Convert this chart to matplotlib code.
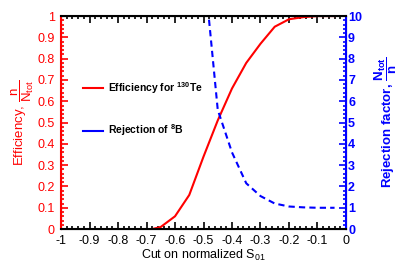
import matplotlib
matplotlib.use("Agg")
import matplotlib.pyplot as plt
from matplotlib.lines import Line2D
from matplotlib.ticker import MultipleLocator

plt.rcParams["font.family"] = ["Liberation Sans", "DejaVu Sans"]
plt.rcParams["mathtext.fontset"] = "custom"
plt.rcParams["mathtext.rm"] = "Liberation Sans"
plt.rcParams["mathtext.it"] = "Liberation Sans"
plt.rcParams["mathtext.bf"] = "Liberation Sans:bold"

# efficiency for 130Te (left axis)
eff_x = [-0.68, -0.65, -0.6, -0.55, -0.5, -0.45, -0.4, -0.35, -0.3, -0.25, -0.2, -0.15, -0.1, -0.04]
eff_y = [0.0, 0.01, 0.06, 0.16, 0.34, 0.51, 0.66, 0.78, 0.87, 0.95, 0.985, 0.995, 1.0, 1.0]

# rejection factor of 8B (right axis)
rej_x = [-0.5, -0.45, -0.4, -0.35, -0.3, -0.25, -0.2, -0.15, -0.1, -0.04]
rej_y = [12.5, 5.6, 3.6, 2.15, 1.55, 1.2, 1.06, 1.02, 1.0, 1.0]

xticks = [-1, -0.9, -0.8, -0.7, -0.6, -0.5, -0.4, -0.3, -0.2, -0.1, 0]
xlabels = ["-1", "-0.9", "-0.8", "-0.7", "-0.6", "-0.5", "-0.4", "-0.3", "-0.2", "-0.1", "0"]
yticks_l = [0, 0.1, 0.2, 0.3, 0.4, 0.5, 0.6, 0.7, 0.8, 0.9, 1]
ylabels_l = ["0", "0.1", "0.2", "0.3", "0.4", "0.5", "0.6", "0.7", "0.8", "0.9", "1"]
yticks_r = list(range(0, 11))

fig = plt.figure(figsize=(4.07, 2.77), dpi=100)
ax = fig.add_axes([0.150, 0.173, 0.700, 0.769])
ax2 = ax.twinx()

ax.plot(eff_x, eff_y, color="red", lw=1.5)
ax2.plot(rej_x, rej_y, color="blue", lw=1.5, ls=(0, (3, 2)))

ax.set_xlim(-1, 0)
ax.set_ylim(0, 1)
ax2.set_ylim(0, 10)

ax.set_xticks(xticks)
ax.set_xticklabels(xlabels, fontsize=9)
ax.xaxis.set_minor_locator(MultipleLocator(0.02))
ax.set_yticks(yticks_l)
ax.set_yticklabels(ylabels_l, fontsize=9, color="red")
ax.yaxis.set_minor_locator(MultipleLocator(0.02))
ax2.set_yticks(yticks_r)
ax2.set_yticklabels([str(v) for v in yticks_r], fontsize=9, color="blue", fontweight="bold")
ax2.yaxis.set_minor_locator(MultipleLocator(0.2))

ax.tick_params(axis="x", which="both", direction="in", top=True, color="black", width=1.2, pad=4)
ax.tick_params(axis="x", which="major", length=5)
ax.tick_params(axis="x", which="minor", length=2.5)
ax.tick_params(axis="y", which="both", direction="in", right=False, color="red", width=1.2, pad=4.5)
ax.tick_params(axis="y", which="major", length=5)
ax.tick_params(axis="y", which="minor", length=2.5)
ax2.tick_params(axis="y", which="both", direction="in", color="blue", width=1.2, pad=1.5)
ax2.tick_params(axis="y", which="major", length=5)
ax2.tick_params(axis="y", which="minor", length=2.5)

for s in ["top", "bottom"]:
    ax2.spines[s].set_linewidth(1.5)
    ax2.spines[s].set_color("black")
ax2.spines["left"].set_color("red")
ax2.spines["left"].set_linewidth(1.5)
ax2.spines["right"].set_color("blue")
ax2.spines["right"].set_linewidth(1.5)

ax.set_xlabel(r"Cut on normalized S$_{01}$", fontsize=9, labelpad=1)
ax.set_ylabel(r"Efficiency, $\dfrac{n}{N_{tot}}$", fontsize=9.5, color="red", labelpad=1)
ax2.set_ylabel(r"Rejection factor, $\mathbf{\dfrac{N_{tot}}{n}}$", fontsize=9.5,
               color="blue", fontweight="bold", labelpad=8)

handles = [Line2D([], [], color="red", lw=1.5), Line2D([], [], color="blue", lw=1.5)]
labels = [r"Efficiency for $^{\mathbf{130}}$Te", r"Rejection of $^{\mathbf{8}}$B"]
leg = ax.legend(handles, labels, loc="upper left", bbox_to_anchor=(0.045, 0.745), frameon=False,
                prop={"size": 7.5, "weight": "bold"}, handlelength=1.9, handletextpad=0.5,
                labelspacing=2.6)

fig.savefig("out.png", dpi=100)
